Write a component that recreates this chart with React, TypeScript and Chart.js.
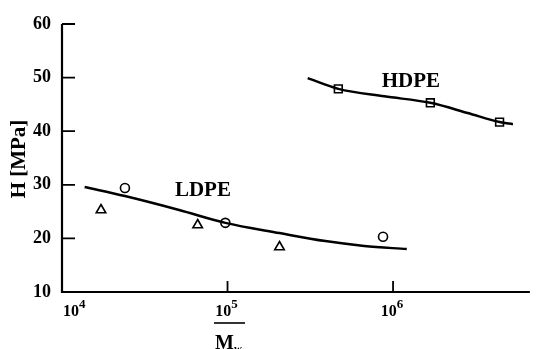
import React, { useEffect, useRef } from "react";
import { Chart, registerables } from "chart.js";

Chart.register(...registerables);

// ---- data ----
const ldpeCircleMw = [2.4e4, 9.7e4, 8.7e5];
const ldpeCircleH = [29.4, 22.9, 20.3];
const ldpeTriangleMw = [1.72e4, 6.6e4, 2.06e5];
const ldpeTriangleH = [25.3, 22.5, 18.4];
const hdpeSquareMw = [4.67e5, 1.68e6, 4.4e6];
const hdpeSquareH = [47.9, 45.3, 41.7];
const ldpeFitMw = [1.37e4, 2.4e4, 5.1e4, 9.7e4, 2.06e5, 3.9e5, 6.7e5, 1.21e6];
const ldpeFitH = [29.6, 27.9, 25.3, 22.9, 21.0, 19.5, 18.6, 18.0];
const hdpeFitMw = [3.05e5, 4.67e5, 8.85e5, 1.68e6, 2.82e6, 4.4e6, 5.3e6];
const hdpeFitH = [49.9, 47.9, 46.5, 45.3, 43.4, 41.7, 41.3];
const seriesLabels = ["LDPE", "HDPE"];
const labelMw = [7.1e4, 1.28e6];
const labelH = [29.0, 49.3];
const yTicks = [10, 20, 30, 40, 50, 60];
const xTickValues = [1e4, 1e5, 1e6];
const xTickExponents = ["4", "5", "6"];
const yTitle = "H [MPa]";
const xTitleMain = "M";
const xTitleSub = "w";

const SERIF = '"Liberation Serif", "Times New Roman", serif';

const pts = (xs: number[], ys: number[]) => xs.map((x, i) => ({ x, y: ys[i] }));

const decorPlugin = {
  id: "decor",
  beforeDatasetsDraw(chart: any) {
    const { ctx, chartArea } = chart;
    const { left, right, top, bottom } = chartArea;
    const xs = chart.scales.x;
    const ys = chart.scales.y;
    ctx.save();
    ctx.strokeStyle = "#000";
    ctx.lineCap = "butt";
    ctx.lineWidth = 2.2;
    ctx.beginPath();
    ctx.moveTo(left, top);
    ctx.lineTo(left, bottom + 1);
    ctx.moveTo(left - 1, bottom);
    ctx.lineTo(right, bottom);
    ctx.stroke();
    ctx.lineWidth = 1.8;
    ctx.beginPath();
    yTicks.forEach((v) => {
      const y = ys.getPixelForValue(v);
      ctx.moveTo(left, y);
      ctx.lineTo(left + 13, y);
    });
    xTickValues.forEach((v, i) => {
      if (i === 0) return;
      const x = xs.getPixelForValue(v);
      ctx.moveTo(x, bottom);
      ctx.lineTo(x, bottom - 11);
    });
    ctx.stroke();
    ctx.restore();
  },
  afterDraw(chart: any) {
    const { ctx, chartArea } = chart;
    const { bottom, top } = chartArea;
    const xs = chart.scales.x;
    const ys = chart.scales.y;
    ctx.save();
    ctx.fillStyle = "#000";
    ctx.textBaseline = "alphabetic";
    // x tick labels with superscripts
    xTickValues.forEach((v, i) => {
      const x = xs.getPixelForValue(v);
      ctx.font = `bold 16px ${SERIF}`;
      const base = "10";
      const wb = ctx.measureText(base).width;
      ctx.font = `bold 13px ${SERIF}`;
      const we = ctx.measureText(xTickExponents[i]).width;
      const start = i === 0 ? x + 1 : x - (wb + we) / 2 - 1;
      ctx.font = `bold 16px ${SERIF}`;
      ctx.textAlign = "left";
      ctx.fillText(base, start, bottom + 24);
      ctx.font = `bold 13px ${SERIF}`;
      ctx.fillText(xTickExponents[i], start + wb, bottom + 16);
    });
    // series labels
    ctx.font = `bold 21px ${SERIF}`;
    ctx.textAlign = "center";
    ctx.textBaseline = "middle";
    seriesLabels.forEach((s, i) => {
      ctx.fillText(s, xs.getPixelForValue(labelMw[i]), ys.getPixelForValue(labelH[i]));
    });
    // y title
    ctx.save();
    ctx.translate(20, (top + bottom) / 2 + 1);
    ctx.rotate(-Math.PI / 2);
    ctx.font = `bold 21px ${SERIF}`;
    ctx.textAlign = "center";
    ctx.textBaseline = "middle";
    ctx.fillText(yTitle, 0, 0);
    ctx.restore();
    // x title: M with overline and subscript w
    ctx.textAlign = "left";
    ctx.textBaseline = "alphabetic";
    ctx.font = `bold 20px ${SERIF}`;
    const mx = 215;
    const mw = ctx.measureText(xTitleMain).width;
    ctx.fillText(xTitleMain, mx, bottom + 57);
    ctx.font = `bold 11px ${SERIF}`;
    ctx.fillText(xTitleSub, mx + mw, bottom + 60);
    ctx.lineWidth = 1.6;
    ctx.beginPath();
    ctx.moveTo(mx - 1, bottom + 31);
    ctx.lineTo(mx + 30, bottom + 31);
    ctx.stroke();
    ctx.restore();
  },
};

export default function App() {
  const ref = useRef<HTMLCanvasElement | null>(null);
  useEffect(() => {
    if (!ref.current) return;
    const chart = new Chart(ref.current, {
      type: "scatter",
      data: {
        datasets: [
          {
            label: "LDPE fit",
            data: pts(ldpeFitMw, ldpeFitH),
            showLine: true,
            borderColor: "#000",
            borderWidth: 2.5,
            pointRadius: 0,
            cubicInterpolationMode: "monotone",
          },
          {
            label: "HDPE fit",
            data: pts(hdpeFitMw, hdpeFitH),
            showLine: true,
            borderColor: "#000",
            borderWidth: 2.5,
            pointRadius: 0,
            cubicInterpolationMode: "monotone",
          },
          {
            label: "LDPE circles",
            data: pts(ldpeCircleMw, ldpeCircleH),
            pointStyle: "circle",
            pointRadius: 4.5,
            pointBorderWidth: 1.6,
            pointBorderColor: "#000",
            pointBackgroundColor: "#fff",
          },
          {
            label: "LDPE triangles",
            data: pts(ldpeTriangleMw, ldpeTriangleH),
            pointStyle: "triangle",
            pointRadius: 5.5,
            pointBorderWidth: 1.6,
            pointBorderColor: "#000",
            pointBackgroundColor: "#fff",
          },
          {
            label: "HDPE squares",
            data: pts(hdpeSquareMw, hdpeSquareH),
            pointStyle: "rect",
            pointRadius: 5.5,
            pointBorderWidth: 1.6,
            pointBorderColor: "#000",
            pointBackgroundColor: "#fff",
          },
        ],
      },
      options: {
        animation: false,
        responsive: false,
        maintainAspectRatio: false,
        layout: { padding: { top: 24, right: 0, left: 0, bottom: 0 } },
        plugins: { legend: { display: false }, tooltip: { enabled: false } },
        scales: {
          x: {
            type: "logarithmic",
            min: 1e4,
            max: 6.71e6,
            grid: { display: false },
            border: { display: false },
            ticks: { display: false },
            afterFit: (s: any) => {
              s.height = 57;
            },
          },
          y: {
            type: "linear",
            min: 10,
            max: 60,
            grid: { display: false },
            border: { display: false },
            ticks: {
              stepSize: 10,
              padding: 3,
              color: "#000",
              font: { family: SERIF, size: 18, weight: "bold" },
            },
            afterFit: (s: any) => {
              s.width = 62;
            },
          },
        },
      },
      plugins: [decorPlugin],
    } as any);
    return () => chart.destroy();
  }, []);
  return (
    <div style={{ position: "absolute", left: 0, top: 0, width: 537, height: 349, background: "#fff" }}>
      <canvas ref={ref} width={537} height={349} style={{ width: 537, height: 349 }} />
    </div>
  );
}
